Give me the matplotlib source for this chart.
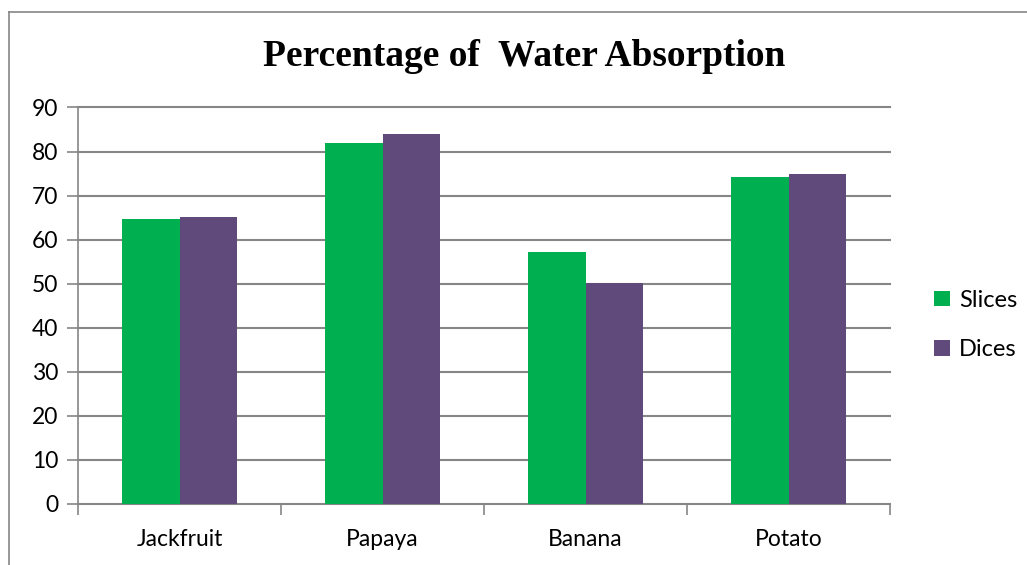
import numpy as np
import matplotlib
matplotlib.use('Agg')
import matplotlib.pyplot as plt
from matplotlib.lines import Line2D

# данные с графика
categories = ['Jackfruit', 'Papaya', 'Banana', 'Potato']
slices = [64.6, 81.9, 57.2, 74.2]
dices = [65.1, 84.0, 50.2, 75.0]
y_ticks = [0, 10, 20, 30, 40, 50, 60, 70, 80, 90]

green = '#00B050'
purple = '#604A7B'
grey = '#868686'

plt.rcParams['font.family'] = ['Lato', 'DejaVu Sans']

fig = plt.figure(figsize=(10.27, 5.65), dpi=100)
ax = fig.add_axes([78 / 1027, 1 - 504 / 565, 812 / 1027, 396.5 / 565])

x = np.arange(len(categories))
w = 0.284
# зелёные чуть шире, чтобы не было белой щели между столбцами
ax.bar(x - w / 2 + 0.002, slices, w + 0.004, color=green, label='Slices',
       zorder=3, linewidth=0)
ax.bar(x + w / 2, dices, w, color=purple, label='Dices', zorder=4, linewidth=0)

ax.set_xlim(-0.5, len(categories) - 0.5)
ax.set_ylim(0, 90)
ax.set_yticks(y_ticks)
# горизонтальные линии сетки
for t in y_ticks[1:]:
    ax.axhline(t, color=grey, linewidth=1.5, zorder=0, clip_on=False)

# деления на границах категорий
ax.set_xticks(np.arange(len(categories) + 1) - 0.5)
ax.set_xticklabels([])
ax.set_xticks(x, minor=True)
ax.set_xticklabels(categories, minor=True)
ax.tick_params(axis='x', which='major', length=8, width=1.2, color=grey)
ax.tick_params(axis='x', which='minor', length=0, pad=18, labelsize=16.5)
ax.tick_params(axis='y', length=8, width=1.2, color=grey, labelsize=16.5, pad=6)

for side in ['top', 'right']:
    ax.spines[side].set_visible(False)
ax.spines['left'].set_color(grey)
ax.spines['bottom'].set_color(grey)
ax.spines['left'].set_linewidth(1.2)
ax.spines['bottom'].set_linewidth(1.5)

fig.text(524 / 1027, 1 - 56 / 565, 'Percentage of  Water Absorption',
         ha='center', va='center', fontsize=27, fontweight='bold',
         family='Liberation Serif')

ax.legend(loc='center left', bbox_to_anchor=(925 / 1027, 1 - 325 / 565),
          bbox_transform=fig.transFigure, frameon=False, fontsize=17,
          handlelength=0.65, handleheight=0.65, handletextpad=0.4,
          labelspacing=1.2, borderaxespad=0)

# рамка диаграммы
fig.add_artist(Line2D([8.5 / 1027, 8.5 / 1027], [0, 1 - 11.5 / 565],
                      color=grey, linewidth=1.2))
fig.add_artist(Line2D([8.5 / 1027, 1], [1 - 11.5 / 565, 1 - 11.5 / 565],
                      color=grey, linewidth=1.2))

fig.savefig('out.png', dpi=100)
